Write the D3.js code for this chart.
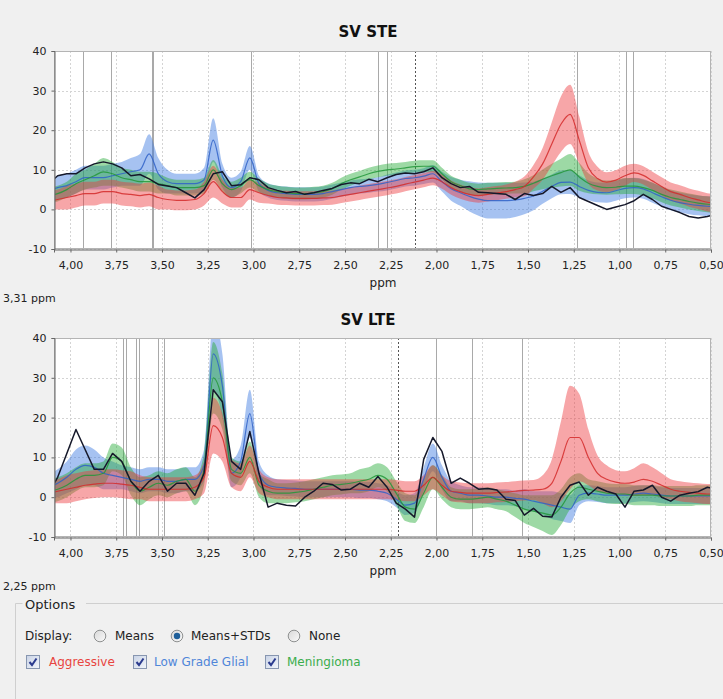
<!DOCTYPE html>
<html><head><meta charset="utf-8">
<script src="https://cdn.jsdelivr.net/npm/d3@7"></script>
<style>
html,body{margin:0;padding:0;background:#f0f0f0;}
svg{display:block;font-family:"DejaVu Sans",sans-serif;}
</style></head><body>
<svg id="chart" width="723" height="699"></svg>
<script>
// ppm grid (shared by both panels)
const ppm = [4.12,4.07,4.02,3.97,3.92,3.87,3.82,3.77,3.72,3.67,
             3.62,3.57,3.52,3.47,3.42,3.37,3.32,3.27,3.22,3.17,
             3.12,3.07,3.02,2.97,2.92,2.87,2.82,2.77,2.72,2.67,
             2.62,2.57,2.52,2.47,2.42,2.37,2.32,2.27,2.22,2.17,
             2.12,2.07,2.02,1.97,1.92,1.87,1.82,1.77,1.72,1.67,
             1.62,1.57,1.52,1.47,1.42,1.37,1.32,1.27,1.22,1.17,
             1.12,1.07,1.02,0.97,0.92,0.87,0.82,0.77,0.72,0.67,
             0.62,0.57,0.52,0.47];
const xTicks = [4.00,3.75,3.50,3.25,3.00,2.75,2.50,2.25,2.00,1.75,1.50,1.25,1.00,0.75,0.50];
const yTicks = [-10,0,10,20,30,40];
const classNames = ["Aggressive","Low Grade Glial","Meningioma"];

// ---- SV STE ----
const steBlack = [6.5,8.5,9.0,9.0,10.5,11.5,12.0,11.5,10.5,8.5,
                  8.8,7.7,6.3,5.9,5.5,4.2,2.9,5.0,9.0,9.5,
                  6.0,6.2,8.0,7.5,5.5,4.8,4.2,4.5,3.8,4.2,
                  4.8,5.3,6.3,6.7,6.5,7.6,7.0,8.0,8.8,9.2,
                  9.0,9.5,10.5,8.0,6.5,5.5,5.8,4.3,4.2,4.0,
                  3.8,2.5,4.0,3.5,4.0,5.8,4.3,5.5,3.0,2.0,
                  1.0,0.0,0.6,1.2,2.2,3.8,2.5,0.8,0.0,-0.8,
                  -1.8,-2.2,-1.8,-1.2];
const steRedMean = [2.0,2.5,3.0,3.5,4.0,4.0,4.5,4.5,4.0,3.8,
                    3.5,3.8,3.0,2.5,2.3,2.3,2.5,4.0,7.0,4.5,
                    3.0,3.0,5.0,4.2,3.5,3.0,2.9,2.8,2.8,2.8,
                    2.9,3.0,3.4,3.8,4.2,4.6,5.0,5.4,5.8,6.4,
                    6.9,7.4,7.9,7.0,5.5,4.5,3.8,3.5,3.8,4.1,
                    4.5,5.0,5.8,8.2,11.5,16.5,21.5,24.0,17.5,10.5,
                    7.8,6.9,7.4,8.5,9.2,8.6,7.2,5.8,4.5,3.8,
                    3.0,2.4,1.8,1.6];
const steRedStd = [2.5,2.5,3.0,3.0,3.0,3.0,3.0,3.0,3.0,3.0,
                   3.0,3.0,3.0,2.5,2.5,2.5,2.5,3.0,4.0,3.0,
                   2.5,2.5,2.5,2.5,2.0,1.8,1.8,1.8,1.8,1.8,
                   1.8,1.8,1.8,1.8,1.8,1.8,1.8,1.8,1.8,1.8,
                   1.8,1.8,1.8,1.8,1.8,1.8,1.8,1.8,1.8,1.8,
                   1.8,2.0,2.5,3.0,4.0,5.5,7.0,7.5,6.0,4.0,
                   3.0,2.5,2.5,2.5,2.3,2.3,2.3,2.3,2.3,2.3,
                   2.3,2.3,2.3,2.3];
const steBlueMean = [4.5,5.5,6.0,7.0,8.0,8.0,8.0,8.5,9.0,9.5,
                     10.0,14.0,9.0,7.0,6.5,6.5,6.5,7.5,17.5,8.5,
                     5.5,7.0,13.0,6.5,4.8,4.2,4.0,3.8,3.8,3.8,
                     4.0,4.5,5.0,5.5,5.8,6.0,6.3,6.8,7.3,7.8,
                     8.0,8.4,9.0,7.0,5.2,4.2,3.3,2.6,2.2,2.2,
                     2.2,2.4,2.8,3.4,4.6,5.8,6.8,6.9,5.8,4.8,
                     4.3,4.2,4.7,5.3,5.5,5.2,4.2,3.2,2.3,1.7,
                     1.3,1.0,0.8,0.7];
const steBlueStd = [2.5,3.0,3.0,3.0,3.0,3.0,3.0,3.0,3.0,3.5,
                    4.0,5.0,4.0,3.0,2.5,2.5,2.5,3.0,5.5,3.0,
                    2.5,2.5,3.0,2.0,1.8,1.8,1.8,1.8,1.8,1.8,
                    1.8,1.8,1.8,1.8,1.8,1.8,1.8,2.0,2.0,2.0,
                    2.0,2.0,2.2,2.5,3.0,3.3,3.8,4.2,4.5,4.5,
                    4.5,4.3,4.0,3.6,3.2,3.0,3.0,3.0,2.8,2.5,
                    2.5,2.5,2.5,2.5,2.5,2.5,2.5,2.5,2.5,2.5,
                    2.5,2.5,2.5,2.5];
const steGreenMean = [3.5,4.0,5.0,6.5,7.5,8.5,9.5,9.0,8.0,7.5,
                      7.0,7.0,6.5,6.0,5.5,5.5,5.5,6.0,10.0,6.5,
                      5.0,6.0,7.5,6.0,5.0,4.5,4.2,4.0,4.0,4.2,
                      4.5,5.2,6.5,7.5,8.2,9.0,9.6,10.0,10.2,10.5,
                      10.8,10.9,10.9,9.0,7.0,6.0,5.2,5.0,5.2,5.3,
                      5.4,5.5,5.8,6.6,7.6,8.5,9.3,10.0,8.2,6.6,
                      5.8,5.5,5.6,5.9,5.9,5.5,4.8,3.8,3.0,2.5,
                      2.0,1.6,1.3,1.2];
const steGreenStd = [2.0,2.0,2.0,2.5,2.5,3.0,3.5,3.0,2.5,2.5,
                     2.5,2.5,2.5,2.0,2.0,2.0,2.0,2.0,2.5,2.0,
                     2.0,2.0,2.0,1.8,1.5,1.5,1.5,1.5,1.5,1.5,
                     1.5,1.5,1.5,1.5,1.5,1.5,1.5,1.5,1.5,1.5,
                     1.5,1.5,1.5,1.5,1.5,1.5,1.5,1.5,1.5,1.5,
                     1.5,1.5,1.8,2.0,2.5,3.0,3.5,4.0,3.5,2.5,
                     2.0,1.8,1.8,2.0,2.0,2.0,2.0,2.0,2.0,2.0,
                     2.0,2.0,2.0,2.0];
const steMarkers = [3.93,3.78,3.556,3.547,3.015,2.32,2.27,1.23,0.965,0.925];
const steCursor = 2.115;

// ---- SV LTE ----
const lteBlack = [1.0,5.0,11.0,17.0,12.0,7.0,7.0,11.0,9.0,4.0,
                  1.5,4.0,5.5,1.5,3.5,3.5,0.5,6.0,27.0,24.0,
                  9.0,7.0,16.5,6.0,-2.5,-1.5,-2.0,-2.2,0.0,1.5,
                  3.5,3.2,1.8,2.0,3.5,2.5,5.2,2.5,-1.5,-3.0,
                  -5.0,9.5,15.0,11.5,3.5,4.8,3.5,2.0,2.2,1.8,
                  -0.5,-0.8,-4.5,-2.8,-4.8,-5.0,0.0,3.0,3.8,0.5,
                  2.5,1.5,0.8,-2.5,1.5,1.8,3.0,0.0,-1.0,0.5,
                  1.0,1.4,2.5,2.0];
const lteRedMean = [1.0,1.5,2.0,2.5,3.0,3.3,3.5,3.5,3.3,3.0,
                    2.5,2.0,2.0,2.0,2.0,2.0,2.5,5.0,18.0,15.0,
                    6.0,5.0,9.0,4.0,2.5,2.0,2.0,2.0,2.0,2.0,
                    2.0,2.0,2.0,2.0,2.0,2.0,2.0,2.0,1.8,1.5,
                    1.5,3.0,5.0,3.0,1.5,1.2,1.0,1.0,1.0,1.2,
                    1.3,1.5,1.7,1.8,2.0,3.5,9.0,15.0,15.0,10.0,
                    6.0,4.5,3.8,3.5,3.8,4.5,4.0,3.0,2.0,1.5,
                    1.2,1.0,0.8,0.8];
const lteRedStd = [3.0,3.0,3.5,3.5,3.5,3.5,3.5,3.5,3.5,3.5,
                   3.0,3.0,3.0,3.0,3.0,3.0,3.0,4.0,7.0,6.0,
                   3.5,3.5,4.0,3.0,2.5,2.5,2.5,2.5,2.5,2.5,
                   2.5,2.5,2.5,2.5,2.5,2.5,2.5,2.5,2.5,2.5,
                   2.5,2.5,3.0,2.5,2.5,2.5,2.5,2.5,2.5,2.5,
                   2.5,2.5,2.5,2.5,3.5,6.0,10.0,13.0,11.0,7.0,
                   4.5,3.5,3.0,3.0,3.5,4.0,3.5,3.0,2.5,2.5,
                   2.5,2.5,2.5,2.5];
const lteBlueMean = [2.5,3.5,5.0,7.0,8.0,7.5,6.0,5.5,5.0,4.5,
                     4.0,4.5,4.5,4.0,4.0,4.5,4.5,8.0,36.0,28.0,
                     6.0,9.0,21.0,6.0,3.0,2.5,2.3,2.2,2.0,2.0,
                     2.0,2.0,2.0,2.0,1.8,1.8,1.5,1.0,-0.5,-2.0,
                     -1.5,4.5,10.0,5.0,1.5,1.0,0.5,0.5,0.3,0.0,
                     0.0,-0.3,-0.5,-1.0,-1.5,-2.0,-2.5,-3.0,0.5,1.0,
                     0.8,0.5,0.5,0.5,0.8,1.0,0.8,0.5,0.3,0.3,
                     0.3,0.3,0.3,0.3];
const lteBlueStd = [3.0,3.5,4.0,5.0,5.0,4.5,4.0,3.5,3.0,3.0,
                    3.0,3.0,3.0,3.0,3.0,3.0,3.0,4.0,9.0,8.0,
                    3.5,4.0,6.0,3.0,2.5,2.0,2.0,2.0,2.0,2.0,
                    2.0,2.0,2.0,2.0,2.0,2.0,2.0,2.0,2.0,2.5,
                    2.5,3.0,3.5,3.0,2.5,2.0,2.0,2.0,2.0,2.0,
                    2.0,2.0,2.5,2.5,3.0,3.5,3.5,3.5,2.5,2.0,
                    2.0,2.0,2.0,2.0,2.0,2.0,2.0,2.0,2.0,2.0,
                    2.0,2.0,2.0,2.0];
const lteGreenMean = [1.5,2.0,3.0,4.5,5.5,5.5,6.0,10.0,9.0,4.0,
                      1.5,2.5,3.5,3.0,4.0,4.5,1.5,7.0,30.0,24.0,
                      7.0,6.0,10.0,3.0,1.5,1.0,1.0,1.2,1.5,2.0,
                      2.5,3.0,3.2,3.5,4.0,4.5,5.5,4.5,1.0,-2.5,
                      -3.0,1.0,5.0,2.5,0.0,-0.5,-0.5,-0.3,0.0,-0.5,
                      -1.0,-2.0,-3.0,-3.5,-4.0,-4.5,-2.5,1.0,2.5,2.0,
                      1.5,1.0,0.8,0.8,0.5,0.5,0.5,0.3,0.3,0.3,
                      0.3,0.5,0.5,0.5];
const lteGreenStd = [3.0,3.0,3.0,3.0,3.0,3.0,3.0,3.5,3.5,3.5,
                     3.5,3.0,3.0,3.0,3.0,3.0,3.5,4.0,9.0,7.0,
                     3.0,3.0,4.0,3.0,3.0,2.5,2.5,2.5,2.5,2.5,
                     2.5,2.5,2.5,2.5,3.0,3.0,3.0,3.0,3.0,3.5,
                     3.5,3.5,3.0,3.0,2.5,2.5,2.5,2.5,2.5,2.5,
                     2.5,3.0,3.5,4.0,4.5,5.0,4.5,4.0,3.5,2.5,
                     2.5,2.5,2.5,2.5,2.5,2.5,2.5,2.5,2.5,2.5,
                     2.5,2.5,2.5,2.5];
const lteMarkers = [3.715,3.697,3.642,3.624,3.52,3.487,2.00,1.805,1.535];
const lteCursor = 2.21;

// colours
const bandFill = {red:"#ee3a3e", blue:"#3a78df", green:"#25aa38"};
const lineCol = {red:"#d42a2a", blue:"#2f62c8", green:"#23963a"};

const svg = d3.select("#chart");
const plotL = 54, plotR = 711;
const x = d3.scaleLinear().domain([4.09, 0.50]).range([plotL, plotR]);

const panels = [
  {title:"SV STE", top:51, bottom:249, titleY:37, cursorText:"3,31 ppm",
   black:steBlack, markers:steMarkers, cursor:steCursor,
   series:[{k:"blue",m:steBlueMean,s:steBlueStd},{k:"green",m:steGreenMean,s:steGreenStd},{k:"red",m:steRedMean,s:steRedStd}]},
  {title:"SV LTE", top:338, bottom:537, titleY:325, cursorText:"2,25 ppm",
   black:lteBlack, markers:lteMarkers, cursor:lteCursor,
   series:[{k:"blue",m:lteBlueMean,s:lteBlueStd},{k:"green",m:lteGreenMean,s:lteGreenStd},{k:"red",m:lteRedMean,s:lteRedStd}]}
];

panels.forEach((P, pi) => {
  const y = d3.scaleLinear().domain([-10, 40]).range([P.bottom, P.top]);
  const g = svg.append("g");
  const clipId = "clip" + pi;
  svg.append("clipPath").attr("id", clipId).append("rect")
    .attr("x", plotL).attr("y", P.top).attr("width", plotR - plotL).attr("height", P.bottom - P.top);

  g.append("rect").attr("x", plotL).attr("y", P.top).attr("width", plotR - plotL)
    .attr("height", P.bottom - P.top).attr("fill", "#ffffff");

  // grid
  g.selectAll(".hg").data(yTicks).join("line")
    .attr("x1", plotL).attr("x2", plotR).attr("y1", d => Math.round(y(d)) + 0.5).attr("y2", d => Math.round(y(d)) + 0.5)
    .attr("stroke", "#d4d4d4").attr("stroke-dasharray", "2,2");
  g.selectAll(".vg").data(xTicks).join("line")
    .attr("y1", P.top).attr("y2", P.bottom).attr("x1", d => Math.round(x(d)) + 0.5).attr("x2", d => Math.round(x(d)) + 0.5)
    .attr("stroke", "#d4d4d4").attr("stroke-dasharray", "2,2");

  // metabolite marker lines
  g.selectAll(".mk").data(P.markers).join("line")
    .attr("y1", P.top).attr("y2", P.bottom).attr("x1", d => Math.round(x(d)) + 0.5).attr("x2", d => Math.round(x(d)) + 0.5)
    .attr("stroke", "#a9a9a9").attr("stroke-width", 1);
  g.append("line").attr("y1", P.top).attr("y2", P.bottom)
    .attr("x1", Math.round(x(P.cursor)) + 0.5).attr("x2", Math.round(x(P.cursor)) + 0.5)
    .attr("stroke", "#555").attr("stroke-dasharray", "2,2");

  const dg = g.append("g").attr("clip-path", `url(#${clipId})`);
  // bands (mean ± std)
  P.series.forEach(S => {
    const rows = ppm.map((p, i) => ({p, m: S.m[i], s: S.s[i]}));
    const area = d3.area().x(d => x(d.p)).y0(d => y(d.m - d.s)).y1(d => y(d.m + d.s)).curve(d3.curveMonotoneX);
    dg.append("path").datum(rows).attr("d", area).attr("fill", bandFill[S.k]).attr("fill-opacity", 0.45);
  });
  // means
  P.series.forEach(S => {
    const rows = ppm.map((p, i) => ({p, m: S.m[i]}));
    const line = d3.line().x(d => x(d.p)).y(d => y(d.m)).curve(d3.curveMonotoneX);
    dg.append("path").datum(rows).attr("d", line).attr("fill", "none")
      .attr("stroke", lineCol[S.k]).attr("stroke-width", 1.2).attr("stroke-opacity", 0.85);
  });
  // single spectrum
  const bl = ppm.map((p, i) => ({p, v: P.black[i]}));
  dg.append("path").datum(bl)
    .attr("d", d3.line().x(d => x(d.p)).y(d => y(d.v)))
    .attr("fill", "none").attr("stroke", "#15182a").attr("stroke-width", 1.5).attr("stroke-linejoin", "round");

  // border
  g.append("rect").attr("x", plotL + 0.5).attr("y", P.top + 0.5).attr("width", plotR - plotL - 1)
    .attr("height", P.bottom - P.top - 1).attr("fill", "none").attr("stroke", "#b4b4b4");

  // axes
  const ya = g.append("g").attr("transform", `translate(${plotL + 0.5},0)`)
    .call(d3.axisLeft(y).tickValues(yTicks).tickSize(3).tickPadding(5).tickFormat(d => String(d)));
  const xa = g.append("g").attr("transform", `translate(0,${P.bottom + 0.5})`)
    .call(d3.axisBottom(x).tickValues(xTicks).tickSize(3).tickPadding(9)
      .tickFormat(d => d.toFixed(2).replace(".", ",")));
  [ya, xa].forEach(a => {
    a.selectAll("path,line").attr("stroke", "#666");
    a.selectAll("text").attr("fill", "#222").style("font-size", "11px").style("font-family", "DejaVu Sans, sans-serif");
  });

  // titles
  svg.append("text").attr("x", 368).attr("y", P.titleY).attr("text-anchor", "middle")
    .style("font-size", "15px").style("font-weight", "bold").attr("fill", "#111").text(P.title);
  svg.append("text").attr("x", 383).attr("y", P.bottom + 38).attr("text-anchor", "middle")
    .style("font-size", "12px").attr("fill", "#222").text("ppm");
  svg.append("text").attr("x", 3).attr("y", P.bottom + 53)
    .style("font-size", "11px").attr("fill", "#222").text(P.cursorText);
});

// ---- Options panel ----
const op = svg.append("g");
op.append("path").attr("d", "M22.5,603.5 H15.5 V699").attr("fill", "none").attr("stroke", "#cfcfcf");
op.append("path").attr("d", "M86,603.5 H723").attr("fill", "none").attr("stroke", "#cfcfcf");
op.append("text").attr("x", 25).attr("y", 609).style("font-size", "13px").attr("fill", "#222").text("Options");
op.append("text").attr("x", 25).attr("y", 640).style("font-size", "12px").attr("fill", "#222").text("Display:");

const defs = svg.append("defs");
const rg = defs.append("linearGradient").attr("id", "radioG").attr("x1", 0).attr("y1", 0).attr("x2", 1).attr("y2", 1);
rg.append("stop").attr("offset", "0%").attr("stop-color", "#d8d8d8");
rg.append("stop").attr("offset", "100%").attr("stop-color", "#fafafa");
const cg = defs.append("linearGradient").attr("id", "chkG").attr("x1", 0).attr("y1", 0).attr("x2", 1).attr("y2", 1);
cg.append("stop").attr("offset", "0%").attr("stop-color", "#c9d3e6");
cg.append("stop").attr("offset", "100%").attr("stop-color", "#f2f5fa");

const radios = [{label:"Means", cx:100, tx:115, sel:false},
                {label:"Means+STDs", cx:177, tx:191, sel:true},
                {label:"None", cx:294, tx:309, sel:false}];
radios.forEach(r => {
  op.append("circle").attr("cx", r.cx).attr("cy", 636).attr("r", 5.8)
    .attr("fill", "url(#radioG)").attr("stroke", "#8e9090");
  if (r.sel) op.append("circle").attr("cx", r.cx).attr("cy", 636).attr("r", 3.2).attr("fill", "#1f5f9a");
  op.append("text").attr("x", r.tx).attr("y", 640).style("font-size", "12px").attr("fill", "#222").text(r.label);
});

const checks = [{label:classNames[0], bx:26, tx:49, col:"#e8453f"},
                {label:classNames[1], bx:133, tx:154, col:"#4f86d9"},
                {label:classNames[2], bx:265, tx:287, col:"#3aad4c"}];
checks.forEach(c => {
  op.append("rect").attr("x", c.bx + 0.5).attr("y", 655.5).attr("width", 13).attr("height", 13)
    .attr("fill", "url(#chkG)").attr("stroke", "#8796b0");
  op.append("path").attr("d", `M${c.bx + 3.5},${662} L${c.bx + 6},${665} L${c.bx + 10.5},${658.5}`)
    .attr("fill", "none").attr("stroke", "#2b3b8e").attr("stroke-width", 2);
  op.append("text").attr("x", c.tx).attr("y", 666).style("font-size", "12px").attr("fill", c.col).text(c.label);
});
</script>
</body></html>
